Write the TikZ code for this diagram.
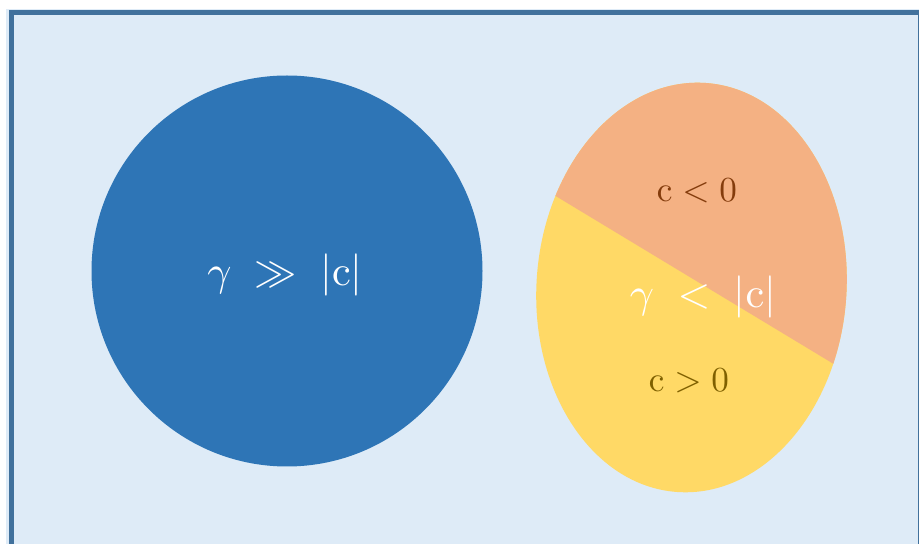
\documentclass[tikz,border=0pt]{standalone}
\usepackage{amsmath}
\usepackage{amssymb}
\usepackage{tikz}

\definecolor{panelbg}{HTML}{DEEBF7}
\definecolor{panelframe}{HTML}{41719C}
\definecolor{bigblue}{HTML}{2E75B6}
\definecolor{negorange}{HTML}{F4B183}
\definecolor{posyellow}{HTML}{FFD966}
\definecolor{negtext}{HTML}{843C0C}
\definecolor{postext}{HTML}{7F6000}

\tikzset{
	bigtext/.style={text=white,scale=2.4},
	smalltext/.style={scale=2.0}
}

\begin{document}
\begin{tikzpicture}
	\useasboundingbox (0,0) rectangle (18.38,10.88);

	%Panel
	\fill [panelbg] (0.12,-0.5) rectangle (18.5,10.70);
	\draw [panelframe,line width=0.1cm] (0.23,-0.5) -- (0.23,10.63) -- (18.41,10.63) -- (18.41,-0.5);

	%Large circle
	\fill [bigblue] (5.74,5.46) circle [radius=3.91];
	\node [bigtext] (strong) at (5.70,5.38) {$\gamma \;\gg\; |\mathrm{c}|$};

	%Split ellipse
	\fill [posyellow] (13.83,5.13) ellipse [x radius=3.10,y radius=4.10,rotate=-4];
	\begin{scope}
		\clip [rotate around={-4:(13.83,5.13)}] (13.83,5.13) ellipse [x radius=3.10,y radius=4.10];
		\fill [negorange] (9.54,7.91) -- (18.28,2.63) -- (18.28,11) -- (9.54,11) -- cycle;
	\end{scope}
	\node [smalltext,text=negtext] (neg) at (13.94,7.06) {$\mathrm{c} < 0$};
	\node [bigtext] (weak) at (14.06,4.94) {$\gamma \;<\; |\mathrm{c}|$};
	\node [smalltext,text=postext] (pos) at (13.78,3.26) {$\mathrm{c} > 0$};
\end{tikzpicture}
\end{document}
